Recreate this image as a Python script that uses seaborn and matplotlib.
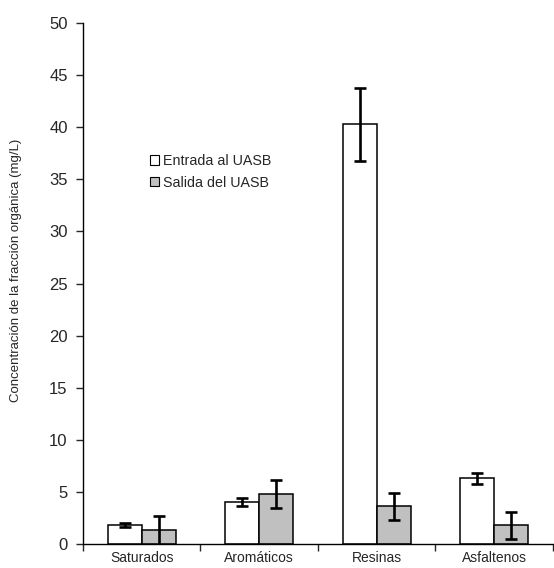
import pandas as pd
import matplotlib
matplotlib.use('Agg')
import matplotlib.pyplot as plt
import seaborn as sns

# Data
categorias = ['Saturados', 'Aromáticos', 'Resinas', 'Asfaltenos']
entrada = [1.8, 4.0, 40.3, 6.3]
entrada_err = [0.2, 0.4, 3.5, 0.5]
salida = [1.3, 4.8, 3.6, 1.8]
salida_err = [1.4, 1.3, 1.3, 1.3]
series = ['Entrada al UASB', 'Salida del UASB']

df = pd.DataFrame({
    'Fraccion': categorias * 2,
    'Serie': [series[0]] * 4 + [series[1]] * 4,
    'Valor': entrada + salida,
    'Error': entrada_err + salida_err,
})

sns.set_style('white')
plt.rcParams['font.family'] = ['Liberation Sans', 'DejaVu Sans']

fig = plt.figure(figsize=(5.54, 5.68), dpi=100)
ax = fig.add_axes([0.1498, 0.0423, 0.848, 0.917])

sns.barplot(data=df, x='Fraccion', y='Valor', hue='Serie', order=categorias,
            hue_order=series, palette=['white', '#c0c0c0'], edgecolor='black',
            linewidth=1.1, width=0.58, errorbar=None, ax=ax)

# error bars on top of each bar
for cont, s in zip(ax.containers, series):
    sub = df[df['Serie'] == s].set_index('Fraccion').loc[categorias]
    xs = [p.get_x() + p.get_width() / 2 for p in cont.patches]
    ax.errorbar(xs, sub['Valor'], yerr=sub['Error'], fmt='none', ecolor='black',
                elinewidth=1.9, capsize=4.5, capthick=1.9)

ax.set_ylim(0, 50)
ax.set_xlim(-0.5, 3.5)
ax.set_yticks(range(0, 51, 5))
ax.tick_params(axis='y', labelsize=12, length=5, width=1, direction='out', pad=6, left=True)
ax.set_xticks([-0.5, 0.5, 1.5, 2.5, 3.5], minor=True)
ax.tick_params(axis='x', which='minor', length=5, width=1, direction='out', bottom=True)
ax.tick_params(axis='x', which='major', length=0, labelsize=10, pad=5)

ax.set_xlabel('')
ax.set_ylabel('Concentración de la fracción orgánica (mg/L)', fontsize=9.5)
ax.yaxis.set_label_coords(-0.13, 0.526)

for side in ['top', 'right']:
    ax.spines[side].set_visible(False)
for side in ['left', 'bottom']:
    ax.spines[side].set_color('black')
    ax.spines[side].set_linewidth(1)

leg = ax.legend(loc='upper left', bbox_to_anchor=(0.13, 0.76), frameon=False,
                fontsize=10.3, handlelength=0.65, handleheight=0.65,
                handletextpad=0.25, labelspacing=0.55, borderaxespad=0)
for h in leg.legend_handles:
    h.set_edgecolor('black')
    h.set_linewidth(0.8)

fig.savefig('out.png', dpi=100)
